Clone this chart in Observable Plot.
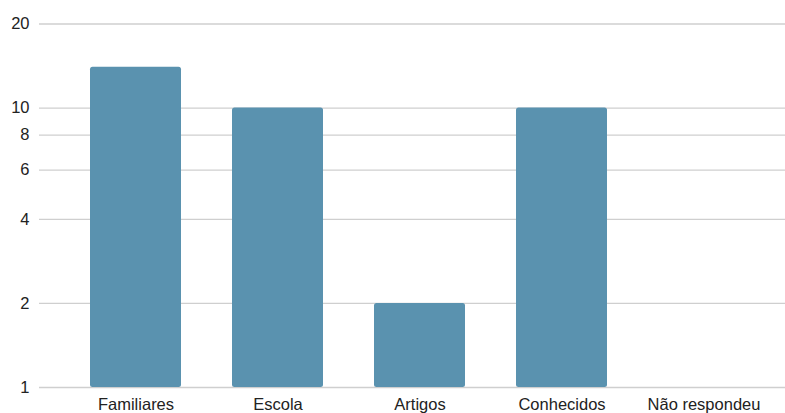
<!DOCTYPE html>
<html>
<head>
<meta charset="utf-8">
<script src="https://cdn.jsdelivr.net/npm/d3@7"></script>
<script src="https://cdn.jsdelivr.net/npm/@observablehq/plot@0.6"></script>
<style>
  html, body { margin: 0; padding: 0; background: #fff; }
  svg { display: block; }
</style>
</head>
<body>
<div id="chart"></div>
<script>
const categories = ["Familiares", "Escola", "Artigos", "Conhecidos", "Não respondeu"];
const values = [14, 10, 2, 10, null];
const yTicks = [1, 2, 4, 6, 8, 10, 20];

const data = categories.map((c, i) => ({category: c, value: values[i]}));

const chart = Plot.plot({
  width: 785,
  height: 413,
  marginLeft: 39,
  marginRight: 0,
  marginTop: 23.5,
  marginBottom: 26,
  style: {fontFamily: "'Liberation Sans', Arial, sans-serif", fontSize: "16px", color: "#222", background: "#fff"},
  x: {domain: categories, range: [64.5, 774.5], paddingInner: 0.36, paddingOuter: 0.18, label: null},
  y: {type: "log", domain: [1, 20], ticks: yTicks, label: null},
  marks: [
    Plot.ruleY(yTicks, {stroke: "#cfcfcf", strokeWidth: 1.3}),
    Plot.rectY(data.filter(d => d.value != null), {x: "category", y1: 1, y2: "value", fill: "#5A92AF", rx: 2.5}),
    Plot.axisX({tickSize: 0, tickPadding: 10.5, fontSize: 16.5}),
    Plot.axisY({ticks: yTicks, tickSize: 0, tickPadding: 10, tickFormat: d => String(d), fontSize: 16.5})
  ]
});
document.getElementById("chart").appendChild(chart);
</script>
</body>
</html>
